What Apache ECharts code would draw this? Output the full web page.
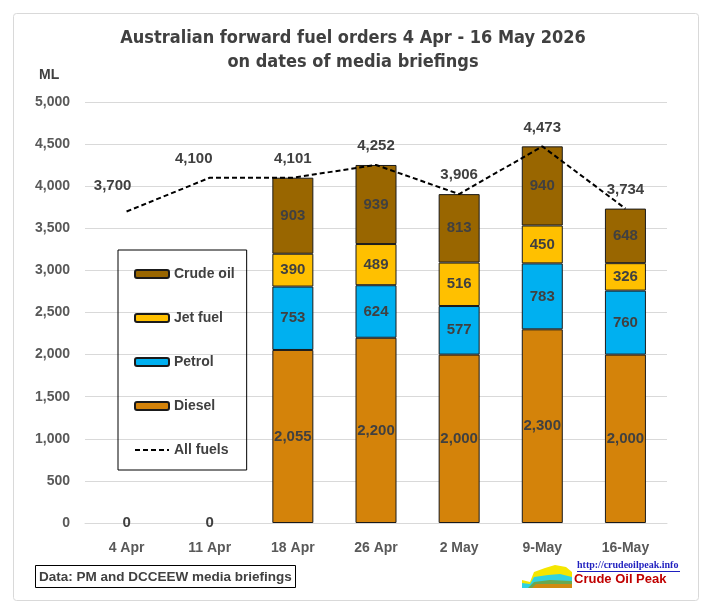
<!DOCTYPE html>
<html>
<head>
<meta charset="utf-8">
<script src="https://cdn.jsdelivr.net/npm/echarts@6/dist/echarts.min.js"></script>
<style>
  html, body { margin: 0; padding: 0; background: #fff; }
  #main { width: 706px; height: 607px; }
</style>
</head>
<body>
<div id="main"></div>
<script>
// briefing dates
var dates = ['4 Apr', '11 Apr', '18 Apr', '26 Apr', '2 May', '9-May', '16-May'];
// ML per fuel type
var diesel = [0, 0, 2055, 2200, 2000, 2300, 2000];
var petrol = [null, null, 753, 624, 577, 783, 760];
var jetFuel = [null, null, 390, 489, 516, 450, 326];
var crudeOil = [null, null, 903, 939, 813, 940, 648];
var allFuels = [3700, 4100, 4101, 4252, 3906, 4473, 3734];

var chart = echarts.init(document.getElementById('main'));

var labelFont = 'Liberation Sans, Arial, sans-serif';
function fmt(p) {
    return Number(p.value).toLocaleString('en-US');
}
function barSeries(name, data, color) {
    return {
        name: name,
        type: 'bar',
        stack: 'fuel',
        barWidth: 41,
        // no outline on the empty (zero) bars
        data: data.map(function (v) {
            return v === 0 ? { value: v, itemStyle: { borderWidth: 0 } } : v;
        }),
        itemStyle: { color: color, borderColor: '#1a1a1a', borderWidth: 1 },
        label: {
            show: true,
            position: 'inside',
            formatter: fmt,
            color: '#404040',
            fontWeight: 'bold',
            fontSize: 15,
            fontFamily: labelFont
        }
    };
}

var option = {
    backgroundColor: '#fff',
    animation: false,
    title: [
        {
            text: 'Australian forward fuel orders 4 Apr - 16 May 2026\non dates of media briefings',
            left: 'center',
            top: 21,
            textStyle: {
                fontFamily: 'DejaVu Sans Condensed, sans-serif',
                fontSize: 18,
                fontWeight: 'bold',
                color: '#404040',
                lineHeight: 24
            }
        },
        {
            text: 'Data: PM and DCCEEW media briefings',
            left: 35,
            top: 565,
            padding: [5, 4, 4, 4],
            borderColor: '#000',
            borderWidth: 1,
            textStyle: { fontFamily: labelFont, fontSize: 13.5, fontWeight: 'bold', color: '#404040' }
        }
    ],
    grid: { left: 85, right: 39, top: 102, bottom: 84 },
    legend: {
        orient: 'vertical',
        left: 118,
        top: 250,
        padding: [17, 12, 13, 16],
        borderColor: '#000',
        borderWidth: 1,
        itemWidth: 34,
        itemHeight: 8,
        itemGap: 30,
        data: ['Crude oil', 'Jet fuel', 'Petrol', 'Diesel', 'All fuels'],
        textStyle: { fontFamily: labelFont, fontSize: 14, fontWeight: 'bold', color: '#404040' }
    },
    xAxis: {
        type: 'category',
        data: dates,
        axisLine: { lineStyle: { color: '#d9d9d9' } },
        axisTick: { show: false },
        axisLabel: { color: '#595959', fontFamily: labelFont, fontSize: 14, fontWeight: 'bold', margin: 18 }
    },
    yAxis: {
        type: 'value',
        min: 0,
        max: 5000,
        interval: 500,
        splitLine: { lineStyle: { color: '#d9d9d9' } },
        axisLabel: {
            color: '#595959', fontFamily: labelFont, fontSize: 14, fontWeight: 'bold', margin: 15,
            formatter: function (v) { return v.toLocaleString('en-US'); }
        }
    },
    graphic: [
        { type: 'rect', left: 11, top: 11, shape: { width: 685, height: 587, r: 3 },
          style: { fill: 'none', stroke: '#d9d9d9', lineWidth: 1 }, silent: true },
        { type: 'text', left: 39, top: 68, style: { text: 'ML', font: 'bold 14px Liberation Sans, Arial', fill: '#404040' } },
        { type: 'text', left: 577, top: 560,
          style: { text: 'http://crudeoilpeak.info', font: 'bold 10px Liberation Serif, serif', fill: '#1f1fbf' } },
        { type: 'rect', left: 577, top: 571, shape: { width: 103, height: 1 }, style: { fill: '#1f1fbf' } },
        { type: 'text', left: 574, top: 573,
          style: { text: 'Crude Oil Peak', font: 'bold 13px Liberation Sans, Arial', fill: '#c00000' } },
        { type: 'polygon', shape: { points: [[522, 588], [522, 580], [530, 582], [534, 572], [545, 568], [555, 565], [566, 567], [572, 572], [572, 588]] },
          style: { fill: '#f5e600' } },
        { type: 'polygon', shape: { points: [[522, 588], [522, 583], [530, 584], [534, 577], [548, 575], [560, 574], [572, 577], [572, 588]] },
          style: { fill: '#2fd3e0' } },
        { type: 'polygon', shape: { points: [[528, 588], [534, 582], [550, 580], [572, 581], [572, 588]] },
          style: { fill: '#6aa84f' } },
        { type: 'polygon', shape: { points: [[532, 588], [536, 584], [572, 584], [572, 588]] },
          style: { fill: '#d08a10' } }
    ],
    series: [
        barSeries('Diesel', diesel, '#d4830a'),
        barSeries('Petrol', petrol, '#00b0f0'),
        barSeries('Jet fuel', jetFuel, '#ffc000'),
        barSeries('Crude oil', crudeOil, '#996600'),
        {
            name: 'All fuels',
            type: 'line',
            z: 5,
            symbol: 'circle',
            symbolSize: 1,
            data: allFuels.map(function (v, i) {
                if (i === 0) return { value: v, label: { offset: [-14, -7] } };
                if (i === 1) return { value: v, label: { offset: [-16, 0] } };
                return v;
            }),
            lineStyle: { color: '#000', width: 2, type: [5, 3] },
            itemStyle: { color: 'rgba(0,0,0,0)' },
            label: {
                show: true,
                position: 'top',
                distance: 11,
                formatter: fmt,
                color: '#404040',
                fontWeight: 'bold',
                fontSize: 15,
                fontFamily: labelFont
            }
        }
    ]
};

chart.setOption(option);
</script>
</body>
</html>
